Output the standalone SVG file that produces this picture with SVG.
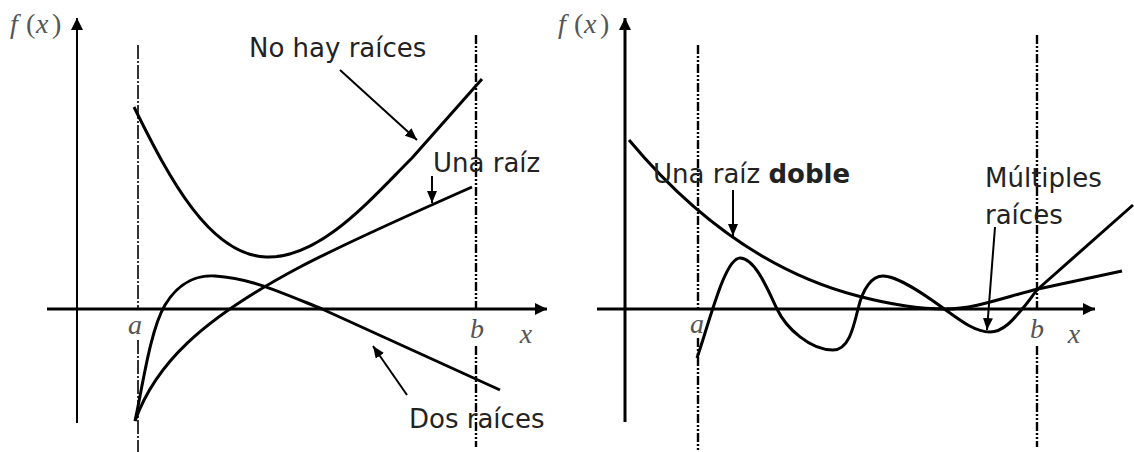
<svg xmlns="http://www.w3.org/2000/svg" width="1134" height="452" viewBox="0 0 1134 452">
<defs>
<marker id="axisHead" viewBox="0 0 12 12" refX="12" refY="6" markerWidth="12" markerHeight="12" orient="auto" markerUnits="userSpaceOnUse"><path d="M0,0 L12,6 L0,12 z" fill="#000"/></marker>
<marker id="arrowHead" viewBox="0 0 12 10" refX="12" refY="5" markerWidth="12" markerHeight="10" orient="auto" markerUnits="userSpaceOnUse"><path d="M0,0 L12,5 L0,10 z" fill="#000"/></marker>
<style>
.axis{stroke:#000;fill:none}
.curve{stroke:#000;stroke-width:3;fill:none;stroke-linejoin:round}
.guide{stroke:#000;fill:none;stroke-width:1.6;stroke-dasharray:14 2 2 2}
.guide2{stroke:#000;fill:none;stroke-width:2.4;stroke-dasharray:9 2 2 2 2 2}
.lbl{font-family:"DejaVu Sans",Verdana,sans-serif;font-size:26px;fill:#222}
.math{font-family:"Liberation Serif","Times New Roman",serif;font-size:28px;fill:#555}
.it{font-style:italic}
.ptr{stroke:#000;stroke-width:2;fill:none;marker-end:url(#arrowHead)}
</style>
</defs>
<rect width="1134" height="452" fill="#fff"/>

<g id="left-panel">
  <g id="left-axes">
    <line class="axis" x1="77" y1="423" x2="77" y2="18" stroke-width="2" marker-end="url(#axisHead)"/>
    <line class="axis" x1="47" y1="309" x2="547" y2="309" stroke-width="3" marker-end="url(#axisHead)"/>
    <path class="guide" d="M138,45 V310 M138,340 V452"/>
    <path class="guide2" d="M476,35 V308 M476,346 V447"/>
  </g>
  <g id="left-curves">
    <path id="curve-no-roots" class="curve" d="M134,107 C170,180 210,255 266,257 C320,259 370,200 412,158 L482,79"/>
    <path id="curve-one-root" class="curve" d="M135,421 C155,365 200,320 300,267 C340,246 420,210 472,187"/>
    <path id="curve-two-roots" class="curve" d="M135,421 C142,390 150,330 165,305 C180,280 200,275 215,276 C250,278 280,292 322,309 L500,390"/>
  </g>
  <g id="left-math">
    <text class="math it" x="10" y="33">f</text>
    <text class="math" x="26" y="33">(</text>
    <text class="math it" x="36" y="33">x</text>
    <text class="math" x="52" y="33">)</text>
    <text class="math it" x="135" y="334" text-anchor="middle">a</text>
    <text class="math it" x="477" y="338" text-anchor="middle">b</text>
    <text class="math it" x="526" y="343" text-anchor="middle">x</text>
  </g>
</g>

<g id="right-panel">
  <g id="right-axes">
    <line class="axis" x1="625" y1="422" x2="625" y2="18" stroke-width="3" marker-end="url(#axisHead)"/>
    <line class="axis" x1="597" y1="309" x2="1095" y2="309" stroke-width="3" marker-end="url(#axisHead)"/>
    <path class="guide2" d="M698,45 V310 M698,338 V452"/>
    <path class="guide2" d="M1037,35 V308 M1037,346 V447"/>
  </g>
  <g id="right-curves">
    <path id="curve-double-root" class="curve" d="M629,140 C675,195 750,268 858,296 C900,307 925,309 945,309 C975,309 1005,297 1038,289 L1122,271"/>
    <path id="curve-multiple-roots" class="curve" d="M697,358 C710,320 725,258 740,258 C755,258 768,290 777,309 C786,328 810,350 833,350 C848,350 853,330 858,309 C863,288 872,276 883,276 C898,276 925,295 943,308 C961,321 975,332 990,332 C1003,332 1013,320 1023,308 C1030,300 1034,293 1038,289 L1133,205"/>
  </g>
  <g id="right-math">
    <text class="math it" x="558" y="33">f</text>
    <text class="math" x="574" y="33">(</text>
    <text class="math it" x="584" y="33">x</text>
    <text class="math" x="600" y="33">)</text>
    <text class="math it" x="697" y="333" text-anchor="middle">a</text>
    <text class="math it" x="1037" y="338" text-anchor="middle">b</text>
    <text class="math it" x="1074" y="343" text-anchor="middle">x</text>
  </g>
</g>

<g id="connectors">
  <line class="ptr" x1="340" y1="70" x2="417" y2="140"/>
  <line class="ptr" x1="432" y1="176" x2="432" y2="203"/>
  <line class="ptr" x1="407" y1="395" x2="373" y2="346"/>
  <line class="ptr" x1="733" y1="190" x2="733" y2="236"/>
  <line class="ptr" x1="995" y1="227" x2="987" y2="330"/>
</g>

<g id="label-no-roots"><text class="lbl" x="249" y="57">No hay raíces</text></g>
<g id="label-one-root"><text class="lbl" x="433" y="172">Una raíz</text></g>
<g id="label-two-roots"><text class="lbl" x="409" y="428">Dos raíces</text></g>
<g id="label-double-root"><text class="lbl" x="653" y="183">Una raíz <tspan font-weight="bold">doble</tspan></text></g>
<g id="label-multiple-roots"><text class="lbl" x="985" y="187">Múltiples</text><text class="lbl" x="985" y="224">raíces</text></g>
</svg>
